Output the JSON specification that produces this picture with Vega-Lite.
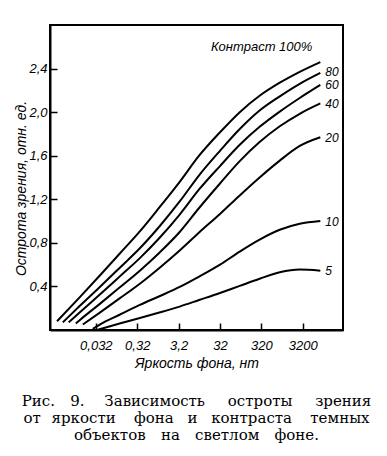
{
  "$schema": "https://vega.github.io/schema/vega-lite/v6.json",
  "width": 293,
  "height": 305,
  "autosize": {"type": "none"},
  "padding": {"left": 50, "top": 25, "right": 44, "bottom": 126},
  "background": "white",
  "title": {
    "text": ["Рис. \u2002\u20099. \u2002\u2002Зависимость \u2002\u2002\u2009остроты \u2002\u2002\u2009зрения", "от \u2009\u2009яркости \u2002\u2009\u2009фона \u2009\u2009\u2009и \u2009\u2009\u2009контраста \u2002\u2009\u2009темных", "объектов \u2002\u2009на \u2002\u2009светлом \u2002\u2009фоне."],
    "orient": "bottom",
    "anchor": "middle",
    "font": "DejaVu Serif",
    "fontSize": 15,
    "fontWeight": "normal",
    "lineHeight": 17,
    "offset": 24,
    "color": "black"
  },
  "config": {
    "view": {"stroke": "black", "strokeWidth": 2},
    "axis": {
      "grid": false,
      "domainColor": "black",
      "domainWidth": 2,
      "tickColor": "black",
      "tickWidth": 1.5,
      "tickSize": -7,
      "labelFont": "Liberation Sans",
      "labelFontStyle": "italic",
      "labelFontSize": 13,
      "labelColor": "black",
      "titleFont": "Liberation Sans",
      "titleFontStyle": "italic",
      "titleFontWeight": "normal",
      "titleFontSize": 14,
      "titleColor": "black"
    }
  },
  "data": {
    "values": [
      {"c": "100", "L": 0.0037, "V": 0.08},
      {"c": "100", "L": 0.013, "V": 0.30},
      {"c": "100", "L": 0.04, "V": 0.50},
      {"c": "100", "L": 0.12, "V": 0.70},
      {"c": "100", "L": 0.37, "V": 0.905},
      {"c": "100", "L": 1.1, "V": 1.125},
      {"c": "100", "L": 3.4, "V": 1.36},
      {"c": "100", "L": 10, "V": 1.60},
      {"c": "100", "L": 32, "V": 1.815},
      {"c": "100", "L": 96, "V": 2.00},
      {"c": "100", "L": 290, "V": 2.15},
      {"c": "100", "L": 890, "V": 2.27},
      {"c": "100", "L": 2700, "V": 2.37},
      {"c": "100", "L": 8500, "V": 2.46, "lab": "Контраст 100%"},
      {"c": "80", "L": 0.0051, "V": 0.07},
      {"c": "80", "L": 0.013, "V": 0.22},
      {"c": "80", "L": 0.04, "V": 0.395},
      {"c": "80", "L": 0.12, "V": 0.57},
      {"c": "80", "L": 0.37, "V": 0.75},
      {"c": "80", "L": 1.1, "V": 0.95},
      {"c": "80", "L": 3.4, "V": 1.18},
      {"c": "80", "L": 10, "V": 1.42},
      {"c": "80", "L": 32, "V": 1.645},
      {"c": "80", "L": 96, "V": 1.845},
      {"c": "80", "L": 290, "V": 2.015},
      {"c": "80", "L": 890, "V": 2.145},
      {"c": "80", "L": 2700, "V": 2.26},
      {"c": "80", "L": 8500, "V": 2.36, "lab": "80"},
      {"c": "60", "L": 0.0071, "V": 0.07},
      {"c": "60", "L": 0.013, "V": 0.16},
      {"c": "60", "L": 0.04, "V": 0.325},
      {"c": "60", "L": 0.12, "V": 0.49},
      {"c": "60", "L": 0.37, "V": 0.66},
      {"c": "60", "L": 1.1, "V": 0.845},
      {"c": "60", "L": 3.4, "V": 1.06},
      {"c": "60", "L": 10, "V": 1.29},
      {"c": "60", "L": 32, "V": 1.505},
      {"c": "60", "L": 96, "V": 1.70},
      {"c": "60", "L": 290, "V": 1.865},
      {"c": "60", "L": 890, "V": 2.005},
      {"c": "60", "L": 2700, "V": 2.13},
      {"c": "60", "L": 8500, "V": 2.25, "lab": "60"},
      {"c": "40", "L": 0.0105, "V": 0.06},
      {"c": "40", "L": 0.013, "V": 0.09},
      {"c": "40", "L": 0.04, "V": 0.24},
      {"c": "40", "L": 0.12, "V": 0.39},
      {"c": "40", "L": 0.37, "V": 0.545},
      {"c": "40", "L": 1.1, "V": 0.71},
      {"c": "40", "L": 3.4, "V": 0.90},
      {"c": "40", "L": 10, "V": 1.12},
      {"c": "40", "L": 32, "V": 1.345},
      {"c": "40", "L": 96, "V": 1.55},
      {"c": "40", "L": 290, "V": 1.725},
      {"c": "40", "L": 890, "V": 1.87},
      {"c": "40", "L": 2700, "V": 1.985},
      {"c": "40", "L": 8500, "V": 2.08, "lab": "40"},
      {"c": "20", "L": 0.0155, "V": 0.05},
      {"c": "20", "L": 0.04, "V": 0.16},
      {"c": "20", "L": 0.12, "V": 0.29},
      {"c": "20", "L": 0.37, "V": 0.425},
      {"c": "20", "L": 1.1, "V": 0.57},
      {"c": "20", "L": 3.4, "V": 0.73},
      {"c": "20", "L": 10, "V": 0.895},
      {"c": "20", "L": 32, "V": 1.065},
      {"c": "20", "L": 96, "V": 1.235},
      {"c": "20", "L": 290, "V": 1.40},
      {"c": "20", "L": 890, "V": 1.555},
      {"c": "20", "L": 2700, "V": 1.69},
      {"c": "20", "L": 8500, "V": 1.77, "lab": "20"},
      {"c": "10", "L": 0.027, "V": 0.01},
      {"c": "10", "L": 0.04, "V": 0.05},
      {"c": "10", "L": 0.12, "V": 0.14},
      {"c": "10", "L": 0.37, "V": 0.23},
      {"c": "10", "L": 1.1, "V": 0.31},
      {"c": "10", "L": 3.4, "V": 0.395},
      {"c": "10", "L": 10, "V": 0.49},
      {"c": "10", "L": 32, "V": 0.60},
      {"c": "10", "L": 96, "V": 0.72},
      {"c": "10", "L": 290, "V": 0.83},
      {"c": "10", "L": 890, "V": 0.92},
      {"c": "10", "L": 2700, "V": 0.975},
      {"c": "10", "L": 8500, "V": 1.00, "lab": "10"},
      {"c": "5", "L": 0.034, "V": 0.0},
      {"c": "5", "L": 0.12, "V": 0.06},
      {"c": "5", "L": 0.37, "V": 0.11},
      {"c": "5", "L": 1.1, "V": 0.16},
      {"c": "5", "L": 3.4, "V": 0.215},
      {"c": "5", "L": 10, "V": 0.275},
      {"c": "5", "L": 32, "V": 0.34},
      {"c": "5", "L": 96, "V": 0.405},
      {"c": "5", "L": 290, "V": 0.47},
      {"c": "5", "L": 890, "V": 0.53},
      {"c": "5", "L": 2700, "V": 0.555},
      {"c": "5", "L": 8500, "V": 0.545, "lab": "5"}
    ]
  },
  "encoding": {
    "x": {
      "field": "L",
      "type": "quantitative",
      "scale": {"type": "log", "domain": [0.0025, 30000], "nice": false},
      "axis": {
        "title": "Яркость фона, нт",
        "values": [0.032, 0.32, 3.2, 32, 320, 3200],
        "labelExpr": "replace(format(datum.value, ''), '.', ',')",
        "labelPadding": 16,
        "titlePadding": 4
      }
    },
    "y": {
      "field": "V",
      "type": "quantitative",
      "scale": {"domain": [0, 2.8], "nice": false, "zero": false},
      "axis": {
        "title": "Острота зрения, отн. ед.",
        "values": [0.4, 0.8, 1.2, 1.6, 2.0, 2.4],
        "labelExpr": "replace(format(datum.value, '.1f'), '.', ',')",
        "labelPadding": 10,
        "titlePadding": 0,
        "titleY": 163
      }
    }
  },
  "layer": [
    {
      "mark": {"type": "line", "color": "black", "strokeWidth": 2, "interpolate": "monotone"},
      "encoding": {"detail": {"field": "c"}}
    },
    {
      "transform": [{"filter": "datum.lab && datum.c != '100' && datum.c != '80'"}],
      "mark": {"type": "text", "align": "left", "baseline": "middle", "dx": 5, "dy": 0.5, "font": "Liberation Sans", "fontStyle": "italic", "fontSize": 12, "color": "black"},
      "encoding": {"text": {"field": "lab"}}
    },
    {
      "transform": [{"filter": "datum.c == '80' && datum.lab"}],
      "mark": {"type": "text", "align": "left", "baseline": "middle", "dx": 5, "dy": -1, "font": "Liberation Sans", "fontStyle": "italic", "fontSize": 12, "color": "black"},
      "encoding": {"text": {"field": "lab"}}
    },
    {
      "transform": [{"filter": "datum.lab && datum.c == '100'"}],
      "mark": {"type": "text", "align": "right", "baseline": "middle", "dx": -8, "dy": -15, "font": "Liberation Sans", "fontStyle": "italic", "fontSize": 13, "color": "black"},
      "encoding": {"text": {"field": "lab"}}
    }
  ]
}
